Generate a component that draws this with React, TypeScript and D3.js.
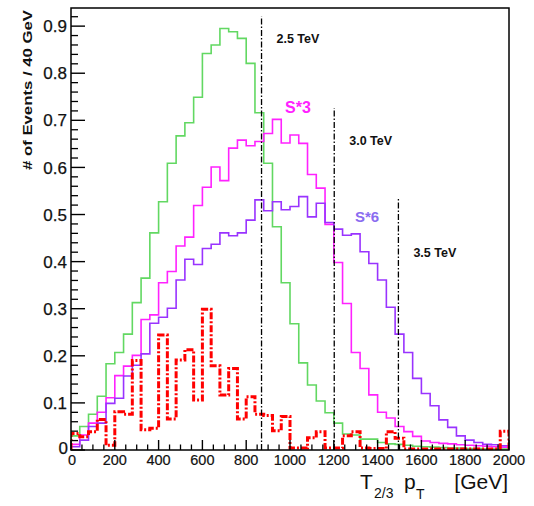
import React from "react";
import * as d3 from "d3";

const binWidth = 40;
const green = [0.03,0.05,0.076,0.114,0.183,0.207,0.246,0.313,0.365,0.461,0.527,0.609,0.667,0.695,0.749,0.842,0.86,0.895,0.888,0.874,0.821,0.716,0.609,0.474,0.355,0.268,0.185,0.138,0.104,0.079,0.057,0.034,0.032,0.023,0.023,0.016,0.013,0.012,0.01,0.008,0.007,0.006,0.005,0.004,0.004,0.003,0.003,0.002,0.002,0.002];
const magenta = [0.012,0.032,0.057,0.08,0.111,0.158,0.178,0.201,0.277,0.287,0.355,0.379,0.433,0.452,0.519,0.558,0.601,0.572,0.641,0.658,0.646,0.655,0.672,0.702,0.652,0.669,0.651,0.585,0.556,0.479,0.398,0.311,0.207,0.173,0.117,0.08,0.068,0.05,0.039,0.029,0.019,0.016,0.014,0.013,0.011,0.01,0.009,0.008,0.007,0.006];
const purple = [0.007,0.021,0.05,0.057,0.099,0.11,0.157,0.18,0.204,0.269,0.282,0.301,0.361,0.405,0.394,0.428,0.437,0.461,0.455,0.461,0.488,0.531,0.508,0.527,0.51,0.517,0.538,0.495,0.524,0.483,0.469,0.456,0.459,0.421,0.396,0.361,0.303,0.246,0.207,0.152,0.12,0.094,0.064,0.048,0.03,0.021,0.016,0.012,0.011,0.009];
const red = [0.035,0.028,0.039,0.065,0.01,0.081,0.076,0.19,0.043,0.046,0.244,0.066,0.191,0.213,0.106,0.299,0.179,0.117,0.173,0.066,0.113,0.076,0.073,0.041,0.071,0.004,0.004,0.026,0.039,0.004,0.004,0.03,0.039,0.004,0.003,0.003,0.039,0.025,0.002,0.002,0.002,0.002,0.002,0.002,0.002,0.002,0.002,0.002,0.002,0.04];

const xTicks = [0,200,400,600,800,1000,1200,1400,1600,1800,2000];
const yTicks = [0,0.1,0.2,0.3,0.4,0.5,0.6,0.7,0.8,0.9];
const cutX = [870, 1202, 1495];
const cutTop = [0.921, 0.726, 0.537];
const cutLabels = ["2.5 TeV", "3.0 TeV", "3.5 TeV"];

const FONT = "'Liberation Sans', Arial, Helvetica, sans-serif";

export default function App() {
  const x = d3.scaleLinear().domain([0, 2000]).range([71, 509]);
  const y = d3.scaleLinear().domain([0, 0.9385]).range([450, 8]);

  const stepPath = (vals: number[]) => {
    const pts: [number, number][] = [[0, 0]];
    vals.forEach((v, i) => pts.push([i * binWidth, v]));
    pts.push([vals.length * binWidth, vals[vals.length - 1]]);
    pts.push([vals.length * binWidth, 0]);
    return d3.line<[number, number]>()
      .x(d => x(d[0]))
      .y(d => y(d[1]))
      .curve(d3.curveStepAfter)(pts) as string;
  };

  const xMinor = d3.range(0, 2001, 50).filter(v => v % 200 !== 0);
  const yMinor = d3.range(0, 0.94, 0.02).filter(v => Math.abs(v * 10 - Math.round(v * 10)) > 1e-6);

  return (
    <svg width={534} height={506} style={{ position: "absolute", left: 0, top: 0, background: "#fff" }} fontFamily={FONT}>
      <defs>
        <clipPath id="plot">
          <rect x={71} y={8} width={438} height={442} />
        </clipPath>
      </defs>
      <g clipPath="url(#plot)" fill="none">
        <path d={stepPath(green)} stroke="#62d862" strokeWidth={1.6} />
        <path d={stepPath(magenta)} stroke="#ff22ff" strokeWidth={1.6} />
        <path d={stepPath(purple)} stroke="#9933ff" strokeWidth={1.6} />
        <path d={stepPath(red)} stroke="#ff0000" strokeWidth={3} strokeDasharray="7,2,2,2" />
        {cutX.map((c, i) => (
          <line key={i} x1={x(c)} x2={x(c)} y1={y(0)} y2={y(cutTop[i])} stroke="#000" strokeWidth={1.3} strokeDasharray="6,2,1.5,2" />
        ))}
      </g>
      {/* frame */}
      <rect x={71} y={8} width={438} height={442} fill="none" stroke="#000" strokeWidth={1.5} />
      {/* y ticks */}
      {yTicks.map(t => (
        <g key={"y" + t}>
          <line x1={71} x2={85} y1={y(t)} y2={y(t)} stroke="#000" strokeWidth={1.4} />
          <text x={t === 0 ? 68 : 67} y={t === 0 ? y(t) - 2 : y(t)} dy="0.36em" textAnchor="end" fontSize={17} fill="#111" stroke="#111" strokeWidth={0.25}>{t === 0 ? "0" : t.toFixed(1)}</text>
        </g>
      ))}
      {yMinor.map((t, i) => (
        <line key={"ym" + i} x1={71} x2={78} y1={y(t)} y2={y(t)} stroke="#000" strokeWidth={1.3} />
      ))}
      {/* x ticks */}
      {xTicks.map(t => (
        <g key={"x" + t}>
          <line x1={x(t)} x2={x(t)} y1={450} y2={440} stroke="#000" strokeWidth={1.4} />
          <text x={t === 0 ? x(t) + 1 : x(t)} y={465} textAnchor="middle" fontSize={14.5} fill="#111" stroke="#111" strokeWidth={0.2}>{t}</text>
        </g>
      ))}
      {xMinor.map((t, i) => (
        <line key={"xm" + i} x1={x(t)} x2={x(t)} y1={450} y2={444.5} stroke="#000" strokeWidth={1.3} />
      ))}
      {/* annotations */}
      {cutX.map((c, i) => (
        <text key={"cl" + i} x={x(c) + 15} y={[43, 145, 256.5][i]} fontSize={12.5} fontWeight="bold" fill="#111">{cutLabels[i]}</text>
      ))}
      <text x={285} y={113} fontSize={16} fontWeight="bold" fill="#ff22ff">S*3</text>
      <text x={355} y={222} fontSize={15} fontWeight="bold" fill="#8a6cf0">S*6</text>
      {/* axis titles */}
      <text transform="translate(32,10) rotate(-90)" textAnchor="end" fontSize={13} fontWeight="bold" fill="#111" textLength={160} lengthAdjust="spacingAndGlyphs">
        # of Events / 40 GeV
      </text>
      <text x={360} y={488.5} fontSize={21} fill="#111">T</text>
      <text x={374} y={498} fontSize={14} fill="#111">2/3</text>
      <text x={404} y={488.5} fontSize={21} fill="#111">p</text>
      <text x={416} y={499} fontSize={14} fill="#111">T</text>
      <text x={508} y={488.5} fontSize={21} textAnchor="end" fill="#111">[GeV]</text>
    </svg>
  );
}
